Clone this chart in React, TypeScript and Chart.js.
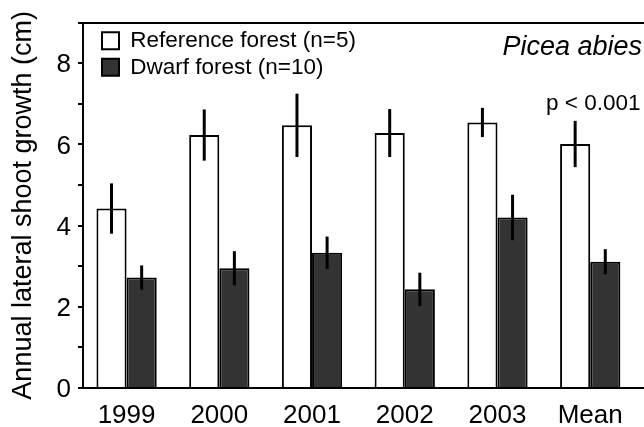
import React, { useEffect, useRef } from 'react';
import { Chart, registerables } from 'chart.js';

Chart.register(...registerables);

const categories = ['1999', '2000', '2001', '2002', '2003', 'Mean'];
const referenceMeans = [4.42, 6.23, 6.47, 6.28, 6.54, 6.01];
const referenceErrors = [0.62, 0.63, 0.78, 0.59, 0.36, 0.57];
const dwarfMeans = [2.72, 2.95, 3.33, 2.43, 4.2, 3.11];
const dwarfErrors = [0.3, 0.42, 0.4, 0.41, 0.56, 0.31];
const yTickLabels = [0, 2, 4, 6, 8];
const seriesLabels = ['Reference forest (n=5)', 'Dwarf forest (n=10)'];
const yAxisTitle = 'Annual lateral shoot growth (cm)';
const speciesLabel = 'Picea abies';
const pValueLabel = 'p < 0.001';

const FONT = '"Liberation Sans", Arial, Helvetica, sans-serif';

const errorBarPlugin = {
  id: 'errorBars',
  afterDatasetsDraw(chart: any) {
    const ctx = chart.ctx;
    const y = chart.scales.y;
    chart.data.datasets.forEach((ds: any, di: number) => {
      const meta = chart.getDatasetMeta(di);
      meta.data.forEach((el: any, i: number) => {
        const v = ds.data[i].y;
        const e = ds.errors[i];
        ctx.save();
        ctx.strokeStyle = '#000';
        ctx.lineWidth = 3;
        ctx.beginPath();
        ctx.moveTo(el.x, y.getPixelForValue(v + e));
        ctx.lineTo(el.x, y.getPixelForValue(v - e));
        ctx.stroke();
        ctx.restore();
      });
    });
  },
};

const annotationPlugin = {
  id: 'annotations',
  afterLayout(chart: any) {
    const lg = chart.legend;
    const ca = chart.chartArea;
    if (lg && ca) {
      const w = lg.width;
      const h = lg.height;
      lg.left = ca.left + 15;
      lg.top = ca.top + 3;
      lg.right = lg.left + w;
      lg.bottom = lg.top + h;
    }
  },
  afterDraw(chart: any) {
    const ctx = chart.ctx;
    const ca = chart.chartArea;
    const x = chart.scales.x;
    const y = chart.scales.y;
    ctx.save();
    ctx.fillStyle = '#000';
    ctx.textBaseline = 'alphabetic';
    ctx.font = `italic 27px ${FONT}`;
    ctx.textAlign = 'right';
    ctx.fillText(speciesLabel, ca.right - 2, ca.top + 32);
    const last = categories.length - 1;
    const top = referenceMeans[last] + referenceErrors[last];
    ctx.font = `22.5px ${FONT}`;
    ctx.textAlign = 'center';
    ctx.fillText(pValueLabel, x.getPixelForValue(last) + 3, y.getPixelForValue(top) - 11);
    ctx.restore();
  },
};

export default function App() {
  const canvasRef = useRef<HTMLCanvasElement | null>(null);

  useEffect(() => {
    if (!canvasRef.current) return;
    const chart = new Chart(canvasRef.current, {
      type: 'bar',
      data: {
        datasets: [
          {
            label: seriesLabels[0],
            data: categories.map((_, i) => ({ x: i, y: referenceMeans[i] })),
            errors: referenceErrors,
            backgroundColor: '#ffffff',
            borderColor: '#000000',
            borderWidth: 2,
          } as any,
          {
            label: seriesLabels[1],
            data: categories.map((_, i) => ({ x: i, y: dwarfMeans[i] })),
            errors: dwarfErrors,
            backgroundColor: '#333333',
            borderColor: '#000000',
            borderWidth: 2,
          } as any,
        ],
      },
      options: {
        animation: false,
        responsive: true,
        maintainAspectRatio: false,
        layout: { padding: 0 },
        datasets: {
          bar: { categoryPercentage: 0.65, barPercentage: 1.0 },
        },
        plugins: {
          legend: {
            position: 'chartArea',
            align: 'start',
            labels: {
              color: '#000',
              font: { family: FONT, size: 22.5 },
              boxWidth: 17,
              boxHeight: 17,
              padding: 4,
            },
          },
          tooltip: { enabled: false },
          title: { display: false },
        },
        scales: {
          x: {
            type: 'linear',
            position: 'bottom',
            offset: false,
            min: -0.47,
            max: 5.58,
            afterBuildTicks: (s: any) => {
              s.ticks = categories.map((_, i) => ({ value: i }));
            },
            afterFit: (s: any) => {
              s.height = 39;
            },
            grid: { display: false, drawTicks: false },
            border: { display: true, color: '#000', width: 2 },
            ticks: {
              color: '#000',
              font: { family: FONT, size: 26 },
              padding: 12,
              autoSkip: false,
              maxRotation: 0,
              callback: (v: any) => categories[v] ?? '',
            },
          },
          x2: {
            type: 'linear',
            position: 'top',
            display: true,
            afterFit: (s: any) => {
              s.height = 20;
            },
            grid: { display: false, drawTicks: false },
            border: { display: true, color: '#000', width: 2 },
            ticks: { display: false },
          },
          y: {
            type: 'linear',
            position: 'left',
            min: 0,
            max: 9,
            afterFit: (s: any) => {
              s.width = 83;
            },
            grid: {
              display: true,
              drawOnChartArea: false,
              drawTicks: true,
              tickLength: 5,
              color: '#000',
              lineWidth: 2,
            },
            border: { display: true, color: '#000', width: 2 },
            ticks: {
              stepSize: 1,
              color: '#000',
              font: { family: FONT, size: 26 },
              padding: 7,
              labelOffset: 2,
              callback: (v: any) => (yTickLabels.includes(v) ? String(v) : ''),
            },
            title: {
              display: true,
              text: yAxisTitle,
              color: '#000',
              font: { family: FONT, size: 27 },
              padding: { top: 7, bottom: 0 },
            },
          },
        },
      },
      plugins: [errorBarPlugin, annotationPlugin],
    } as any);
    return () => chart.destroy();
  }, []);

  return (
    <div style={{ position: 'absolute', left: 0, top: 0, width: 644, height: 427, background: '#fff' }}>
      <canvas ref={canvasRef} />
    </div>
  );
}
